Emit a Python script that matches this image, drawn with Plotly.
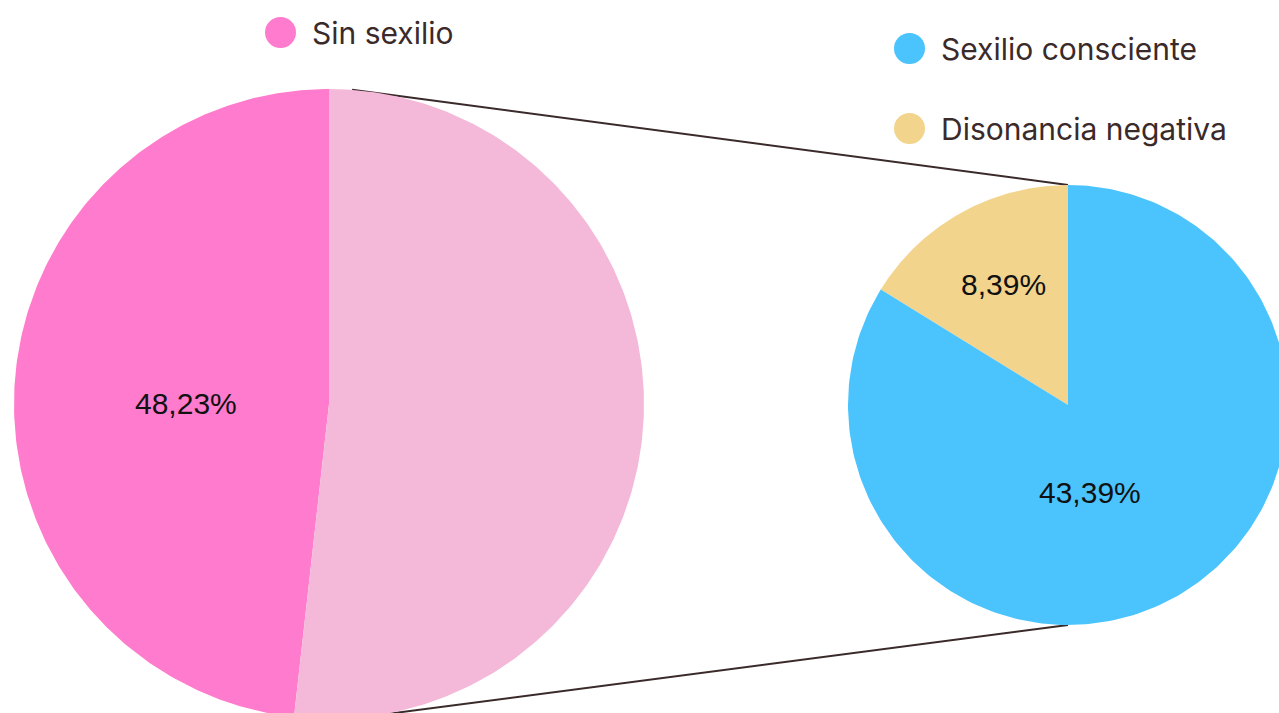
import numpy as np
import plotly.graph_objects as go

# --- data -------------------------------------------------------------
main_labels = ["Sin sexilio", "Con sexilio"]
main_values = [48.23, 51.78]          # second slice is broken out on the right
detail_labels = ["Disonancia negativa", "Sexilio consciente"]
detail_values = [8.39, 43.39]
value_text = {"Sin sexilio": "48,23%", "Disonancia negativa": "8,39%", "Sexilio consciente": "43,39%"}

# --- styling / geometry (pixel space) ---------------------------------
W, H = 1279, 713
COLORS = {
    "Sin sexilio": "#FF7BCD",
    "Con sexilio": "#F4B8D8",
    "Sexilio consciente": "#4BC3FD",
    "Disonancia negativa": "#F2D48D",
}
INK = "#3B2A2A"
LEFT = dict(cx=329, cy=404, r=315)
RIGHT = dict(cx=1068, cy=405, r=220)
# label anchor per slice: (angle offset in deg, radius fraction)
LABEL_POS = {
    "Sin sexilio": (-3, 0.455),
    "Disonancia negativa": (1, 0.62),
    "Sexilio consciente": (15, 0.41),
}


def point(pie, ang_deg, frac=1.0):
    """Angle measured clockwise from 12 o'clock; y grows downward."""
    a = np.radians(ang_deg)
    return pie["cx"] + frac * pie["r"] * np.sin(a), pie["cy"] - frac * pie["r"] * np.cos(a)


def wedge(pie, a0, a1, n=240):
    angs = np.linspace(a0, a1, n)
    xs, ys = point(pie, angs)
    return np.r_[pie["cx"], xs, pie["cx"]], np.r_[pie["cy"], ys, pie["cy"]]


fig = go.Figure()

# connector lines, drawn first so the pies sit on top of them
for a_left, a_right in [(4.2, 0), (171, 180)]:
    x0, y0 = point(LEFT, a_left)
    x1, y1 = point(RIGHT, a_right)
    fig.add_trace(go.Scatter(x=[x0, x1], y=[y0, y1], mode="lines",
                             line=dict(color=INK, width=2), hoverinfo="skip"))


def draw_pie(pie, labels, values, direction):
    """direction -1: first slice runs counter-clockwise from the top."""
    total = sum(values)
    start = 0.0
    for lab, val in zip(labels, values):
        sweep = 360.0 * val / total
        end = start + direction * sweep
        xs, ys = wedge(pie, start, end)
        fig.add_trace(go.Scatter(x=xs, y=ys, mode="lines", fill="toself",
                                 fillcolor=COLORS[lab], line=dict(width=0),
                                 name=lab, hoverinfo="name"))
        if lab in LABEL_POS:
            off, frac = LABEL_POS[lab]
            mid = (start + end) / 2 + off
            tx, ty = point(pie, mid, frac)
            fig.add_annotation(x=tx, y=ty, text=value_text[lab], showarrow=False,
                               font=dict(family="Liberation Sans, Arial", size=30, color="#111111"))
        start = end


draw_pie(LEFT, main_labels, main_values, -1)
draw_pie(RIGHT, detail_labels, detail_values, -1)

# legend entries: dot + label
legend_items = [
    ("Sin sexilio", 280.5, 32.5),
    ("Sexilio consciente", 909.5, 48.5),
    ("Disonancia negativa", 909.5, 128.5),
]
for lab, lx, ly in legend_items:
    fig.add_shape(type="circle", xref="x", yref="y", x0=lx - 15.5, x1=lx + 15.5,
                  y0=ly - 15.5, y1=ly + 15.5, fillcolor=COLORS[lab], line=dict(width=0))
    fig.add_annotation(x=lx + 29, y=ly, text=lab, showarrow=False, xanchor="left",
                       yanchor="middle", font=dict(family="Inter", size=30, color=INK))

fig.update_layout(
    width=W, height=H, margin=dict(l=0, r=0, t=0, b=0),
    paper_bgcolor="white", plot_bgcolor="white", showlegend=False,
    xaxis=dict(range=[0, W], visible=False, fixedrange=True),
    yaxis=dict(range=[H, 0], visible=False, fixedrange=True),
)

fig.write_html("out.html")
